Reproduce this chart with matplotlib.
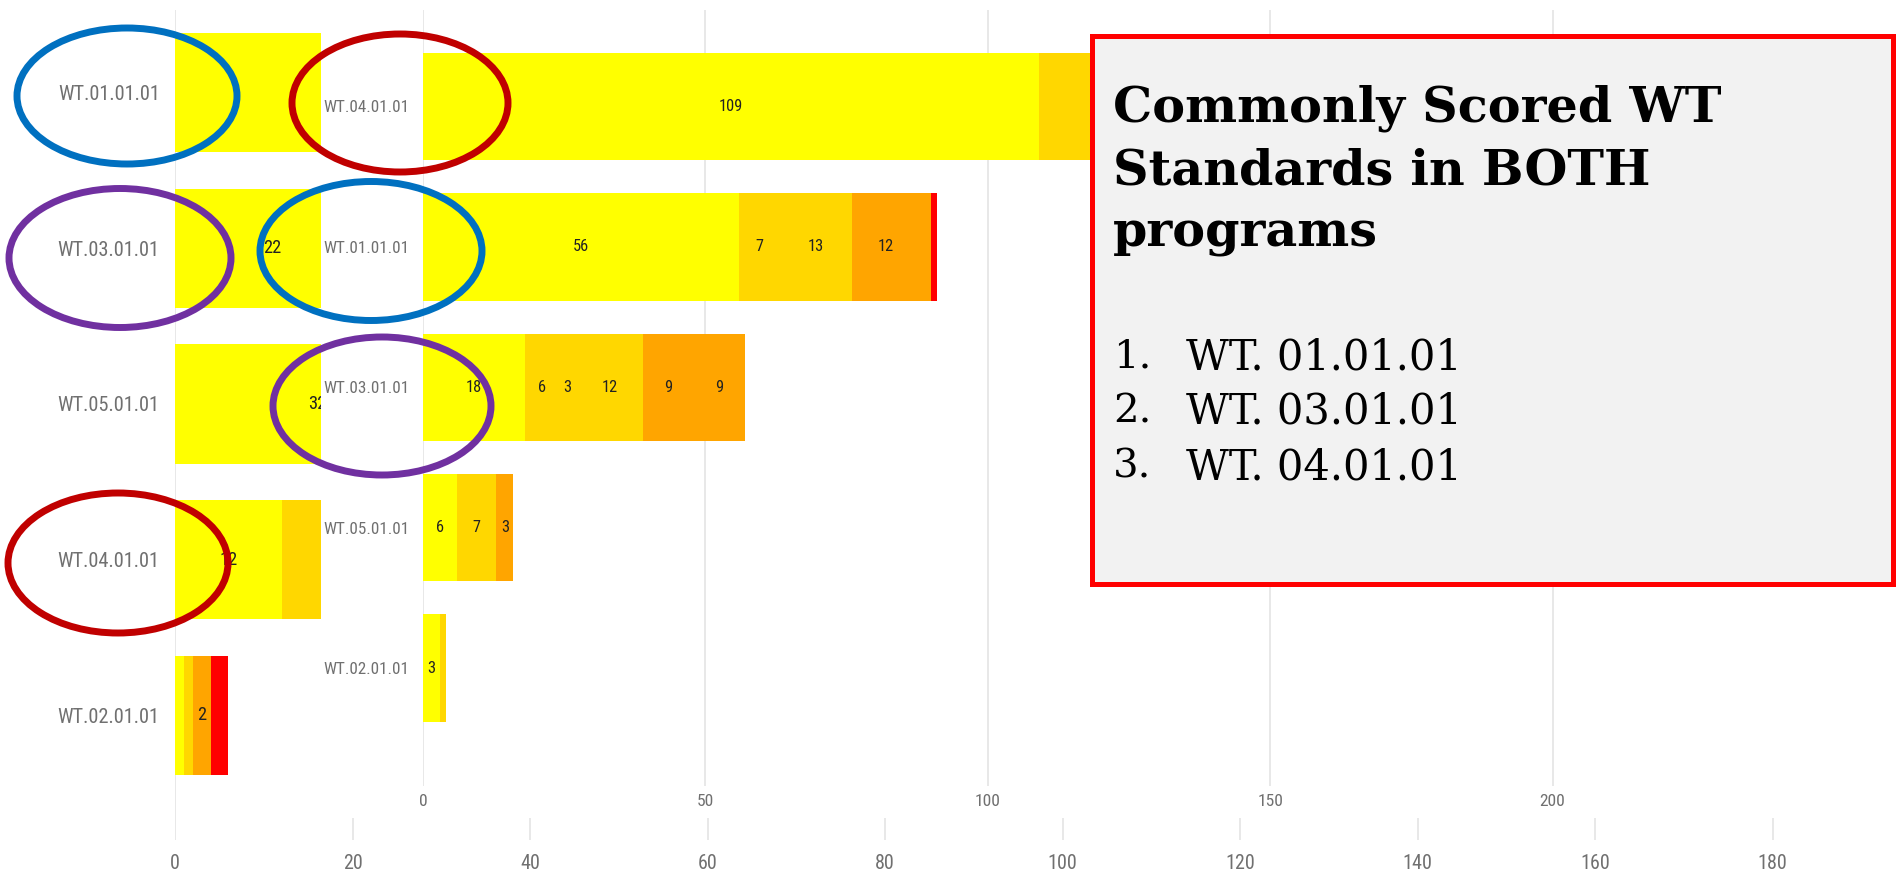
import os
import numpy as np
import matplotlib.pyplot as plt
from matplotlib import font_manager
from matplotlib.font_manager import FontProperties
from matplotlib.patches import Ellipse, Rectangle

# first program (chart underneath, mostly covered)
back_cats = ['WT.01.01.01', 'WT.03.01.01', 'WT.05.01.01', 'WT.04.01.01', 'WT.02.01.01']
back_yellow = [40, 22, 32, 12, 1]
back_gold = [0, 0, 0, 14, 1]
back_orange = [0, 0, 0, 0, 2]
back_red = [0, 0, 0, 0, 2]
back_ticks = [0, 20, 40, 60, 80, 100, 120, 140, 160, 180]

# second program (chart pasted on top)
front_cats = ['WT.04.01.01', 'WT.01.01.01', 'WT.03.01.01', 'WT.05.01.01', 'WT.02.01.01']
front_yellow = [109, 56, 18, 6, 3]
front_gold1 = [25, 7, 6, 7, 1]
front_gold2 = [0, 13, 3, 0, 0]
front_gold3 = [0, 0, 12, 0, 0]
front_orange1 = [0, 12, 9, 3, 0]
front_orange2 = [0, 2, 9, 0, 0]
front_red = [0, 1, 0, 0, 0]
front_ticks = [0, 50, 100, 150, 200]

box_title = 'Commonly Scored WT\nStandards in BOTH\nprograms'
box_items = ['WT. 01.01.01', 'WT. 03.01.01', 'WT. 04.01.01']

YELLOW = '#FFFF00'
GOLD = '#FFD700'
ORANGE = '#FFA500'
RED = '#FF0000'

# look for a narrow sans font, sizes below are tuned for DejaVu Sans
cands = {'liberationsansnarrow-regular.ttf': 1.35, 'dejavusanscondensed.ttf': 1.1,
         'robotocondensed-regular.ttf': 1.2}
narrow_path, k = None, 1.0
for f in font_manager.fontManager.ttflist:
    b = os.path.basename(f.fname).lower()
    if b in cands and cands[b] > k:
        narrow_path, k = f.fname, cands[b]
fp = FontProperties(fname=narrow_path) if narrow_path else FontProperties(family='DejaVu Sans')

W, H = 1897, 877
fig = plt.figure(figsize=(W / 100, H / 100), dpi=100)


def px_box(l, t, r, b):
    return [l / W, 1 - b / H, (r - l) / W, (b - t) / H]


def stacked(ax, cats, series, size, min_lab, vis_max):
    # vis_max: beyond this x value the chart is covered, so no labels there
    y = np.arange(len(cats))
    left = np.zeros(len(cats))
    for vals, col in series:
        vals = np.array(vals, float)
        ax.barh(y, vals, left=left, height=0.765, color=col, zorder=2)
        for yi, v, l0 in zip(y, vals, left):
            if v >= min_lab and col != RED and l0 + v / 2 < vis_max:
                ax.text(l0 + v / 2, yi, str(int(v)), ha='center', va='center',
                        fontproperties=fp, fontsize=size * k, color='#222222', zorder=3)
        left += vals


def style(ax, xsize, ysize, pad_y, pad_x):
    for s in ax.spines.values():
        s.set_visible(False)
    ax.tick_params(length=0, labelcolor='#707070')
    ax.tick_params(axis='y', pad=pad_y)
    ax.tick_params(axis='x', pad=pad_x)
    for lab in ax.get_xticklabels():
        lab.set_fontproperties(fp)
        lab.set_fontsize(xsize * k)
    for lab in ax.get_yticklabels():
        lab.set_fontproperties(fp)
        lab.set_fontsize(ysize * k)
    ax.grid(axis='x', color='#e6e6e6', lw=1.3)
    ax.set_axisbelow(True)


# chart underneath
ax_b = fig.add_axes(px_box(175, 10, 1897, 840), zorder=0)
stacked(ax_b, back_cats, [(back_yellow, YELLOW), (back_gold, GOLD),
                          (back_orange, ORANGE), (back_red, RED)], 11, 2, 17.5)
ax_b.set_xlim(0, 194)
ax_b.set_ylim(4.80, -0.53)
ax_b.set_xticks(back_ticks)
ax_b.set_yticks(range(len(back_cats)), back_cats)
style(ax_b, 12, 12.2, 11, 10)

# white screenshot pasted on top
fig.add_artist(Rectangle((321 / W, 1 - 818 / H), (W - 321) / W, 818 / H,
                         transform=fig.transFigure, facecolor='white',
                         edgecolor='none', zorder=1))

ax_f = fig.add_axes(px_box(423, 10, 1897, 786), zorder=2)
ax_f.patch.set_alpha(0)
stacked(ax_f, front_cats, [(front_yellow, YELLOW), (front_gold1, GOLD),
                           (front_gold2, GOLD), (front_gold3, GOLD),
                           (front_orange1, ORANGE), (front_orange2, ORANGE),
                           (front_red, RED)], 9.8, 3, 115)
ax_f.set_xlim(0, 261)
ax_f.set_ylim(4.84, -0.687)
ax_f.set_xticks(front_ticks)
ax_f.set_yticks(range(len(front_cats)), front_cats)
style(ax_f, 10.5, 10.2, 10, 6)

# hand drawn circles around the shared standards
rings = [(127, 96, 220, 136, '#0070C0'), (400, 103, 216, 138, '#C00000'),
         (120, 258, 222, 139, '#7030A0'), (371, 251, 222, 139, '#0070C0'),
         (382, 406, 218, 138, '#7030A0'), (118, 563, 220, 140, '#C00000')]
for cx, cy, w, h, c in rings:
    fig.add_artist(Ellipse((cx / W, 1 - cy / H), w / W, h / H, transform=fig.transFigure,
                           fill=False, edgecolor=c, lw=5, zorder=3))

# callout box
fig.add_artist(Rectangle((1092 / W, 1 - 584 / H), (1893 - 1092) / W, (584 - 36) / H,
                         transform=fig.transFigure, facecolor='#F2F2F2',
                         edgecolor='#FF0000', lw=3.6, zorder=4))
fig.text(1113 / W, 1 - 84 / H, box_title, ha='left', va='top', fontsize=35.5,
         family='DejaVu Serif', weight='bold', linespacing=1.42, zorder=5)
for i, item in enumerate(box_items):
    yy = 1 - (357 + 55 * i) / H
    fig.text(1113 / W, yy, f'{i + 1}.', ha='left', va='center', fontsize=29,
             family='DejaVu Serif', zorder=5)
    fig.text(1186 / W, yy, item, ha='left', va='center', fontsize=30,
             family='DejaVu Serif', zorder=5)

fig.savefig('out.png', dpi=100)
